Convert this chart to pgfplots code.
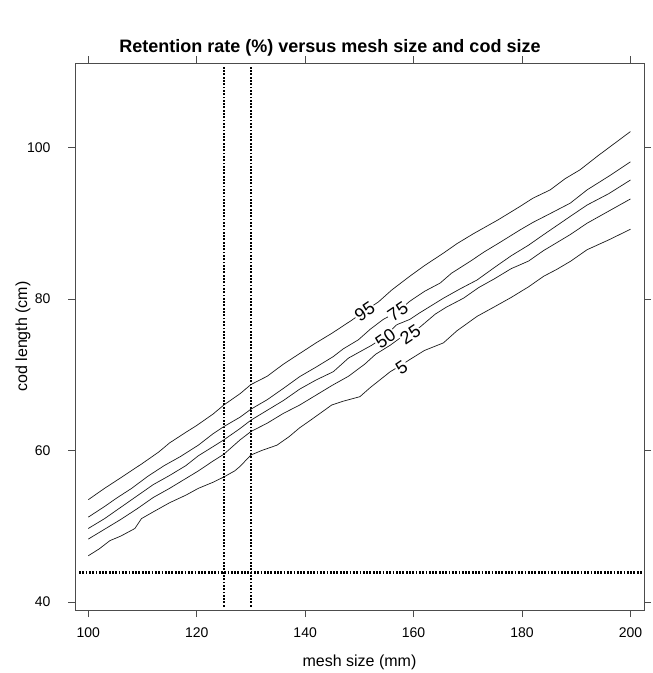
\documentclass[border=0pt]{standalone}
\usepackage{pgfplots}
\pgfplotsset{compat=1.18}
\usepackage{fontspec}
\setmainfont{Liberation Sans}

% retention contours, one table per level
\pgfplotstableread{
x y
100 53.5
103 55.0
106 56.4
110 58.3
113 59.8
115 61.0
118 62.4
120 63.3
123 64.8
125 66.0
128 67.5
130 68.7
133 69.8
136 71.4
139 72.8
142 74.2
145 75.5
148.6 77.2
151 78.4
153.5 79.6
156 81.2
159.3 83.0
162 84.4
165.5 86.05
168 87.3
171 88.6
175.6 90.45
179.6 92.2
182 93.3
185.2 94.4
188 95.9
190.7 97.05
194 98.9
197 100.5
200 102.1
}\cninetyfive
\pgfplotstableread{
x y
100 51.2
103 52.6
105.2 53.7
108 55.0
111 56.6
114 58.0
117 59.2
120.3 60.7
123 62.2
125 63.15
128 64.4
130 65.45
133 66.7
136 68.2
139 69.75
142 71.0
145.2 72.4
147 73.4
149.8 74.6
152 76.0
154.4 77.3
157 78.3
159.3 79.7
162 81.0
164.9 82.1
167 83.4
170.4 84.95
173 86.2
176 87.5
179.6 89.1
182 90.1
185 91.2
188.9 92.65
192 94.4
196 96.2
200 98.1
}\cseventyfive
\pgfplotstableread{
x y
100 49.7
103 51.0
106 52.5
109 54.0
112 55.5
115 56.7
118 58.0
120.3 59.3
123 60.5
125 61.4
128 62.9
130 64.0
133 65.3
136 66.6
139 68.1
142 69.3
145.2 70.4
148 72.2
152.3 73.9
154.8 75.1
156.9 76.6
159.3 77.3
161.2 78.2
165.5 80.1
168.5 81.3
171.7 82.5
175 84.2
178 85.7
181.2 87.1
184 88.5
188.9 90.9
192 92.4
196 93.9
200 95.7
}\cfifty
\pgfplotstableread{
x y
100 48.3
103 49.6
106 50.9
109 52.3
112 53.8
115 55.0
118 56.3
120.3 57.3
123 58.6
125 59.5
128 61.4
130 62.5
133 63.6
136 64.9
139 66.0
142 67.3
145 68.6
148 69.8
151 71.4
153 72.7
155.7 73.9
158 75.1
161.2 76.3
164 78.0
166 78.9
169.2 80.1
172 81.5
175 82.7
178 84.0
181.2 85.0
184 86.4
188.9 88.5
192 90.0
196 91.6
200 93.2
}\ctwentyfive
\pgfplotstableread{
x y
100 46.1
102 47.0
104 48.1
106 48.7
108.6 49.7
109.8 51.0
112 51.9
115 53.1
118 54.1
120.3 55.0
123 55.8
125 56.5
127 57.3
128 57.9
130 59.4
132 60.0
134.8 60.7
137 61.8
139 63.0
141 64.0
144.9 66.0
147 66.5
150.1 67.1
152 68.3
155.7 70.4
157.8 71.3
159.3 72.0
162 73.2
165.5 74.2
168 75.8
171.7 77.7
175 79.0
178 80.2
181.2 81.6
184 83.0
186.4 83.9
189 85.0
192 86.5
196 87.8
200 89.2
}\cfive

\begin{document}
\begin{tikzpicture}
\useasboundingbox (0,0) rectangle (653pt,673pt);
\node[font=\fontsize{18}{21}\selectfont\bfseries, anchor=base] at (330pt,620pt)
  {Retention rate (\%) versus mesh size and cod size};
\begin{axis}[
  at={(75pt,63pt)}, anchor=south west,
  scale only axis, width=569pt, height=547pt,
  xmin=97.55, xmax=202.5, ymin=38.94, ymax=111.15,
  xtick={100,120,140,160,180,200}, ytick={40,60,80,100},
  tick align=outside, major tick length=7pt,
  xtick pos=both, ytick pos=both,
  xticklabel pos=lower, yticklabel pos=left,
  axis line style={black!70, line width=0.8pt},
  tick style={black!70, line width=0.6pt},
  /pgf/number format/assume math mode=true,
  tick label style={font=\fontsize{14}{16}\selectfont},
  xticklabel style={yshift=-7pt},
  yticklabel style={xshift=-14pt},
  xlabel={mesh size (mm)}, ylabel={cod length (cm)},
  xlabel style={font=\fontsize{16}{19}\selectfont, at={([yshift=-52pt]axis description cs:0.5,0)}, anchor=center},
  ylabel style={font=\fontsize{16}{19}\selectfont, at={([xshift=-52pt]axis description cs:0,0.5)}, anchor=center},
  clip=false,
]
\addplot[black!90, line width=0.7pt] table {\cninetyfive};
\addplot[black!90, line width=0.7pt] table {\cseventyfive};
\addplot[black!90, line width=0.7pt] table {\cfifty};
\addplot[black!90, line width=0.7pt] table {\ctwentyfive};
\addplot[black!90, line width=0.7pt] table {\cfive};
% reference lines
\addplot[black, line width=2.6pt, dash pattern=on 1.8pt off 1.5pt] coordinates {(125,39.4) (125,110.8)};
\addplot[black, line width=2.6pt, dash pattern=on 1.8pt off 1.5pt] coordinates {(130,39.4) (130,110.8)};
\addplot[black, line width=2.6pt, dash pattern=on 1.8pt off 1.5pt] coordinates {(98.3,43.9) (202.2,43.9)};
% contour labels
\begin{scope}[every node/.style={fill=white, inner sep=0.8pt, rotate=34, font=\fontsize{18}{20}\selectfont}]
\node at (axis cs:151.0,78.3) {95};
\node at (axis cs:157.1,78.3) {75};
\node at (axis cs:154.8,74.8) {50};
\node at (axis cs:159.4,75.3) {25};
\node at (axis cs:157.8,71.0) {5};
\end{scope}
\end{axis}
\end{tikzpicture}
\end{document}
